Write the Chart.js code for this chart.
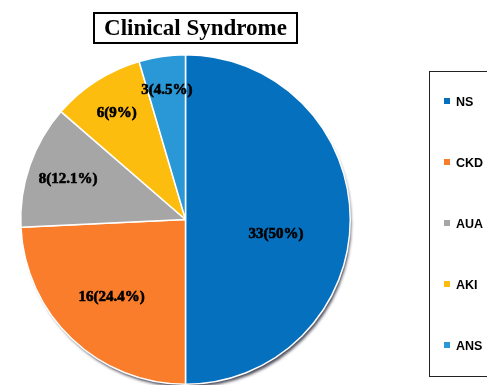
<!DOCTYPE html>
<html>
<head>
<meta charset="utf-8">
<script src="https://cdn.jsdelivr.net/npm/chart.js@4/dist/chart.umd.min.js"></script>
<style>
  html, body { margin: 0; padding: 0; background: #fff; }
  #wrap { position: relative; width: 487px; height: 385px; overflow: hidden; }
  #chart { position: absolute; left: 0; top: 0; }
  #title {
    position: absolute; left: 93px; top: 12px; width: 201px; height: 28px;
    border: 2px solid #000; text-align: center;
    font: bold 23px "Liberation Serif", "Times New Roman", serif; line-height: 28px; color: #000;
  }
  #legend {
    position: absolute; left: 429px; top: 71px; width: 80px; height: 306px;
    border: 1.5px solid #222; box-sizing: border-box;
  }
  .item {
    position: absolute; left: 14px; height: 14px;
    font: bold 12.5px "Liberation Sans", Arial, sans-serif; color: #000; line-height: 14px;
    white-space: nowrap;
  }
  .item span.sw { display: inline-block; width: 6px; height: 6px; margin-right: 6px; vertical-align: 2px; }
</style>
</head>
<body>
<div id="wrap">
  <canvas id="chart" width="487" height="385"></canvas>
  <div id="title">Clinical Syndrome</div>
  <div id="legend"></div>
</div>
<script>
// Clinical syndrome breakdown
const categories = ["NS", "CKD", "AUA", "AKI", "ANS"];
const counts = [33, 16, 8, 6, 3];
const percentLabels = ["50%", "24.4%", "12.1%", "9%", "4.5%"];
const sliceColors = ["#0470BE", "#FA7D2C", "#A6A6A6", "#FDBD0F", "#2A98D6"];

// Legend list on the right
const legendEl = document.getElementById("legend");
categories.forEach((name, i) => {
  const d = document.createElement("div");
  d.className = "item";
  d.style.top = (23 + i * 61) + "px";
  d.innerHTML = '<span class="sw" style="background:' + sliceColors[i] + '"></span>' + name;
  legendEl.appendChild(d);
});

// Soft drop shadow under the whole pie
const pieShadow = {
  id: "pieShadow",
  beforeDatasetsDraw(chart) {
    const arc = chart.getDatasetMeta(0).data[0];
    if (!arc) return;
    const ctx = chart.ctx;
    ctx.save();
    ctx.shadowColor = "rgba(20,20,40,0.75)";
    ctx.shadowBlur = 3;
    ctx.shadowOffsetX = 2;
    ctx.shadowOffsetY = 4;
    ctx.beginPath();
    ctx.arc(arc.x, arc.y, arc.outerRadius - 1, 0, Math.PI * 2);
    ctx.fillStyle = "#555";
    ctx.fill();
    ctx.restore();
  }
};

// "count(percent)" labels inside each slice; small slices sit nearer the rim
const sliceLabels = {
  id: "sliceLabels",
  afterDatasetsDraw(chart) {
    const ctx = chart.ctx;
    const meta = chart.getDatasetMeta(0);
    ctx.save();
    ctx.font = "bold 15px 'Liberation Serif', 'Times New Roman', serif";
    ctx.fillStyle = "#000";
    ctx.strokeStyle = "#000";
    ctx.lineWidth = 0.6;
    ctx.textAlign = "center";
    ctx.textBaseline = "middle";
    meta.data.forEach((arc, i) => {
      const span = arc.endAngle - arc.startAngle;
      const mid = (arc.startAngle + arc.endAngle) / 2;
      const f = span > 1.2 && span < 2 ? 0.65 : 0.82 - 0.27 * (span / Math.PI);
      const r = arc.outerRadius * f;
      let x = arc.x + Math.cos(mid) * r;
      let y = arc.y + Math.sin(mid) * r;
      if (span >= Math.PI - 1e-6) y += 15;
      const text = counts[i] + "(" + percentLabels[i] + ")";
      ctx.fillText(text, x, y);
      ctx.strokeText(text, x, y);
    });
    ctx.restore();
  }
};

new Chart(document.getElementById("chart"), {
  type: "pie",
  data: {
    labels: categories,
    datasets: [{
      data: counts,
      backgroundColor: sliceColors,
      borderColor: "#ffffff",
      borderWidth: 1.5,
      hoverOffset: 0
    }]
  },
  options: {
    responsive: false,
    animation: false,
    layout: { padding: { left: 17, right: 133, top: 54, bottom: 0 } },
    plugins: {
      legend: { display: false },
      title: { display: false },
      tooltip: { enabled: false }
    }
  },
  plugins: [pieShadow, sliceLabels]
});
</script>
</body>
</html>
